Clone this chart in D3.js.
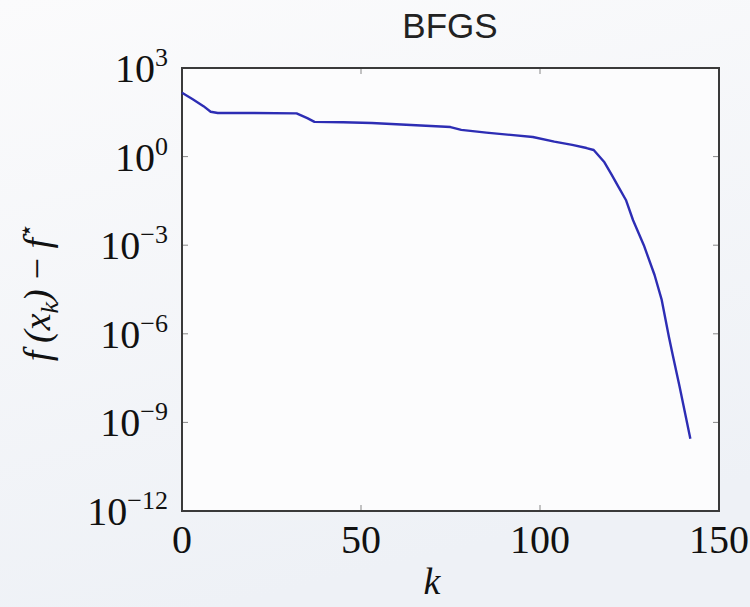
<!DOCTYPE html>
<html><head><meta charset="utf-8">
<script src="https://cdn.jsdelivr.net/npm/d3@7"></script>
<style>
html,body{margin:0;padding:0;background:#f8f9fb;}
svg{display:block;}
</style></head>
<body>
<script>
const title = "BFGS";
const kValues = [0, 3, 6, 8, 10, 20, 32, 35, 37, 45, 53, 64, 75, 78, 85, 98, 104, 109, 113, 115, 118, 120, 122, 124, 126, 129, 132, 134, 136, 137, 139, 142];
const gapValues = [145, 87, 51, 33, 30, 30, 29, 20, 15, 14.5, 13.7, 11.8, 10, 8, 6.5, 4.6, 3.2, 2.5, 1.95, 1.67, 0.64, 0.245, 0.091, 0.034, 0.007, 1.0e-3, 9.8e-5, 1.4e-5, 8e-7, 2.1e-7, 1.6e-8, 2.8e-10];
const xTicks = [0, 50, 100, 150];
const yTickExps = [3, 0, -3, -6, -9, -12];

const W = 750, H = 607;
const m = {left: 182, right: 31, top: 68, bottom: 96};
const svg = d3.select("body").append("svg").attr("width", W).attr("height", H);

const defs = svg.append("defs");
const grad = defs.append("linearGradient").attr("id", "bg").attr("x1", 0).attr("y1", 0).attr("x2", 0.3).attr("y2", 1);
grad.append("stop").attr("offset", "0%").attr("stop-color", "#fbfbfc");
grad.append("stop").attr("offset", "100%").attr("stop-color", "#eef1f6");
svg.append("rect").attr("width", W).attr("height", H).attr("fill", "url(#bg)");

const x = d3.scaleLinear().domain([0, 150]).range([m.left, W - m.right]);
const y = d3.scaleLog().domain([1e-12, 1e3]).range([H - m.bottom, m.top]);

svg.append("rect").attr("x", m.left).attr("y", m.top)
  .attr("width", W - m.left - m.right).attr("height", H - m.top - m.bottom)
  .attr("fill", "#fcfcfd");

// ticks (inside, mirrored)
const tickLen = 6;
const tg = svg.append("g").attr("stroke", "#888").attr("stroke-width", 1);
xTicks.forEach(t => {
  tg.append("line").attr("x1", x(t)).attr("x2", x(t)).attr("y1", y(1e-12)).attr("y2", y(1e-12) - tickLen);
  tg.append("line").attr("x1", x(t)).attr("x2", x(t)).attr("y1", y(1e3)).attr("y2", y(1e3) + tickLen);
});
yTickExps.forEach(e => {
  const v = Math.pow(10, e);
  tg.append("line").attr("x1", x(0)).attr("x2", x(0) + tickLen).attr("y1", y(v)).attr("y2", y(v));
  tg.append("line").attr("x1", x(150)).attr("x2", x(150) - tickLen).attr("y1", y(v)).attr("y2", y(v));
});

// frame
svg.append("rect").attr("x", m.left).attr("y", m.top)
  .attr("width", W - m.left - m.right).attr("height", H - m.top - m.bottom)
  .attr("fill", "none").attr("stroke", "#3a3a3a").attr("stroke-width", 2);

// x tick labels
const serif = "'Liberation Serif', 'Times New Roman', serif";
svg.append("g").selectAll("text").data(xTicks).join("text")
  .attr("x", d => x(d)).attr("y", 553)
  .attr("text-anchor", "middle")
  .attr("font-family", serif).attr("font-size", 40)
  .attr("fill", "#111")
  .text(d => d);

// y tick labels
const yl = svg.append("g").selectAll("text").data(yTickExps).join("text")
  .attr("x", 168).attr("y", d => y(Math.pow(10, d)) + 14)
  .attr("text-anchor", "end")
  .attr("font-family", serif).attr("font-size", 40)
  .attr("fill", "#111");
yl.append("tspan").text("10");
yl.append("tspan").attr("dy", -16).attr("font-size", 26)
  .text(d => d < 0 ? "\u2212" + Math.abs(d) : String(d));

// line
const data = kValues.map((k, i) => ({k, v: gapValues[i]}));
const line = d3.line().x(d => x(d.k)).y(d => y(d.v)).curve(d3.curveLinear);
svg.append("path").datum(data)
  .attr("d", line).attr("fill", "none")
  .attr("stroke", "#2d2db4").attr("stroke-width", 2.4)
  .attr("stroke-linejoin", "round");

// title
svg.append("text").attr("x", 450).attr("y", 38).attr("text-anchor", "middle")
  .attr("font-family", "'Liberation Sans', Arial, sans-serif").attr("font-size", 35)
  .attr("fill", "#222").text(title);

// x label
svg.append("text").attr("x", 432).attr("y", 594).attr("text-anchor", "middle")
  .attr("font-family", serif).attr("font-style", "italic").attr("font-size", 38)
  .attr("fill", "#111").text("k");

// y label
const ylab = svg.append("text")
  .attr("transform", "translate(50,292) rotate(-90)")
  .attr("text-anchor", "middle")
  .attr("font-family", serif).attr("font-style", "italic").attr("font-size", 38)
  .attr("fill", "#111");
ylab.append("tspan").text("f\u2009(x");
ylab.append("tspan").attr("dy", 8).attr("font-size", 26).text("k");
ylab.append("tspan").attr("dy", -8).text(")\u2009\u2212\u2009f");
ylab.append("tspan").attr("dy", -16).attr("font-size", 24).attr("font-style", "normal").text("\u22C6");
</script>
</body></html>
